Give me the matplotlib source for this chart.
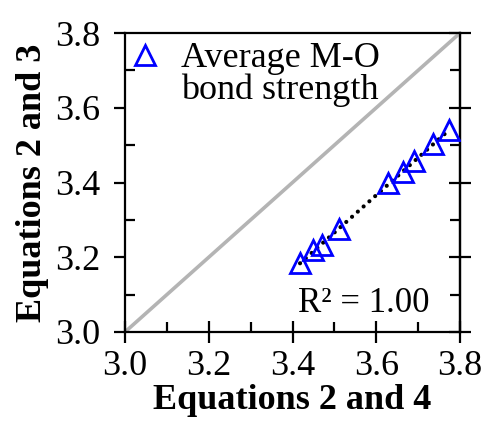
import numpy as np
import matplotlib
matplotlib.use("Agg")
import matplotlib.pyplot as plt
from matplotlib.ticker import MultipleLocator, FormatStrFormatter
from matplotlib.lines import Line2D

x_vals = [3.418, 3.450, 3.470, 3.512, 3.629, 3.665, 3.690, 3.736, 3.774]
y_vals = [3.185, 3.219, 3.233, 3.275, 3.398, 3.429, 3.457, 3.503, 3.540]
series_label_lines = ["Average M-O", "bond strength"]
xlabel = "Equations 2 and 4"
ylabel = "Equations 2 and 3"
r2_text = "R² = 1.00"

plt.rcParams['font.family'] = ['Liberation Serif', 'DejaVu Serif']

fig = plt.figure(figsize=(4.83, 4.21), dpi=100)
ax = fig.add_axes([125/483, 1-332/421, 335/483, 299/421])

ax.plot([3.0, 3.8], [3.0, 3.8], color='#b4b4b4', lw=2.6, zorder=1)

xa = np.array(x_vals); ya = np.array(y_vals)
m, b = np.polyfit(xa, ya, 1)
xf = np.array([xa.min(), xa.max()])
ax.plot(xf, m*xf + b, color='black', lw=3.0, ls=(0, (0.01, 1.85)),
        dash_capstyle='round', zorder=2)

pts, = ax.plot(x_vals, y_vals, ls='none', marker='^', ms=14, mfc='none',
               mec='#0000ff', mew=2.0, zorder=3)

ax.set_xlim(3.0, 3.8)
ax.set_ylim(3.0, 3.8)
ax.xaxis.set_major_locator(MultipleLocator(0.2))
ax.yaxis.set_major_locator(MultipleLocator(0.2))
ax.xaxis.set_minor_locator(MultipleLocator(0.1))
ax.yaxis.set_minor_locator(MultipleLocator(0.1))
ax.xaxis.set_major_formatter(FormatStrFormatter('%.1f'))
ax.yaxis.set_major_formatter(FormatStrFormatter('%.1f'))

for s in ax.spines.values():
    s.set_linewidth(1.6)

ax.tick_params(axis='both', which='major', labelsize=26, width=1.6)
ax.tick_params(axis='x', which='major', direction='inout', length=16,
               bottom=True, top=False, pad=5)
ax.tick_params(axis='x', which='minor', direction='in', length=7, width=1.6,
               bottom=True, top=False)
ax.tick_params(axis='y', which='major', direction='out', length=8,
               left=True, right=False, pad=10)
ax.tick_params(axis='y', which='minor', direction='in', length=7, width=1.6,
               left=True, right=False)

ax2 = ax.secondary_yaxis('right')
ax2.yaxis.set_major_locator(MultipleLocator(0.2))
ax2.yaxis.set_minor_locator(MultipleLocator(0.1))
ax2.tick_params(which='major', direction='inout', length=16, width=1.6, labelright=False)
ax2.tick_params(which='minor', direction='in', length=7, width=1.6)
ax2.spines['right'].set_linewidth(1.6)

ax.set_xlabel(xlabel, fontsize=26, fontweight='bold', labelpad=1)
ax.set_ylabel(ylabel, fontsize=26, fontweight='bold', labelpad=4)

blank = Line2D([], [], ls='none', marker=None)
leg = ax.legend([pts, blank], series_label_lines, loc='upper left', fontsize=26,
                frameon=False, handlelength=0.6, handletextpad=0.7,
                borderaxespad=0.0, borderpad=0.25, labelspacing=-0.05,
                bbox_to_anchor=(0.0, 1.0))

ax.text(0.91, 0.067, r2_text, transform=ax.transAxes, fontsize=25,
        ha='right', va='baseline')

fig.savefig("out.png", dpi=100)
